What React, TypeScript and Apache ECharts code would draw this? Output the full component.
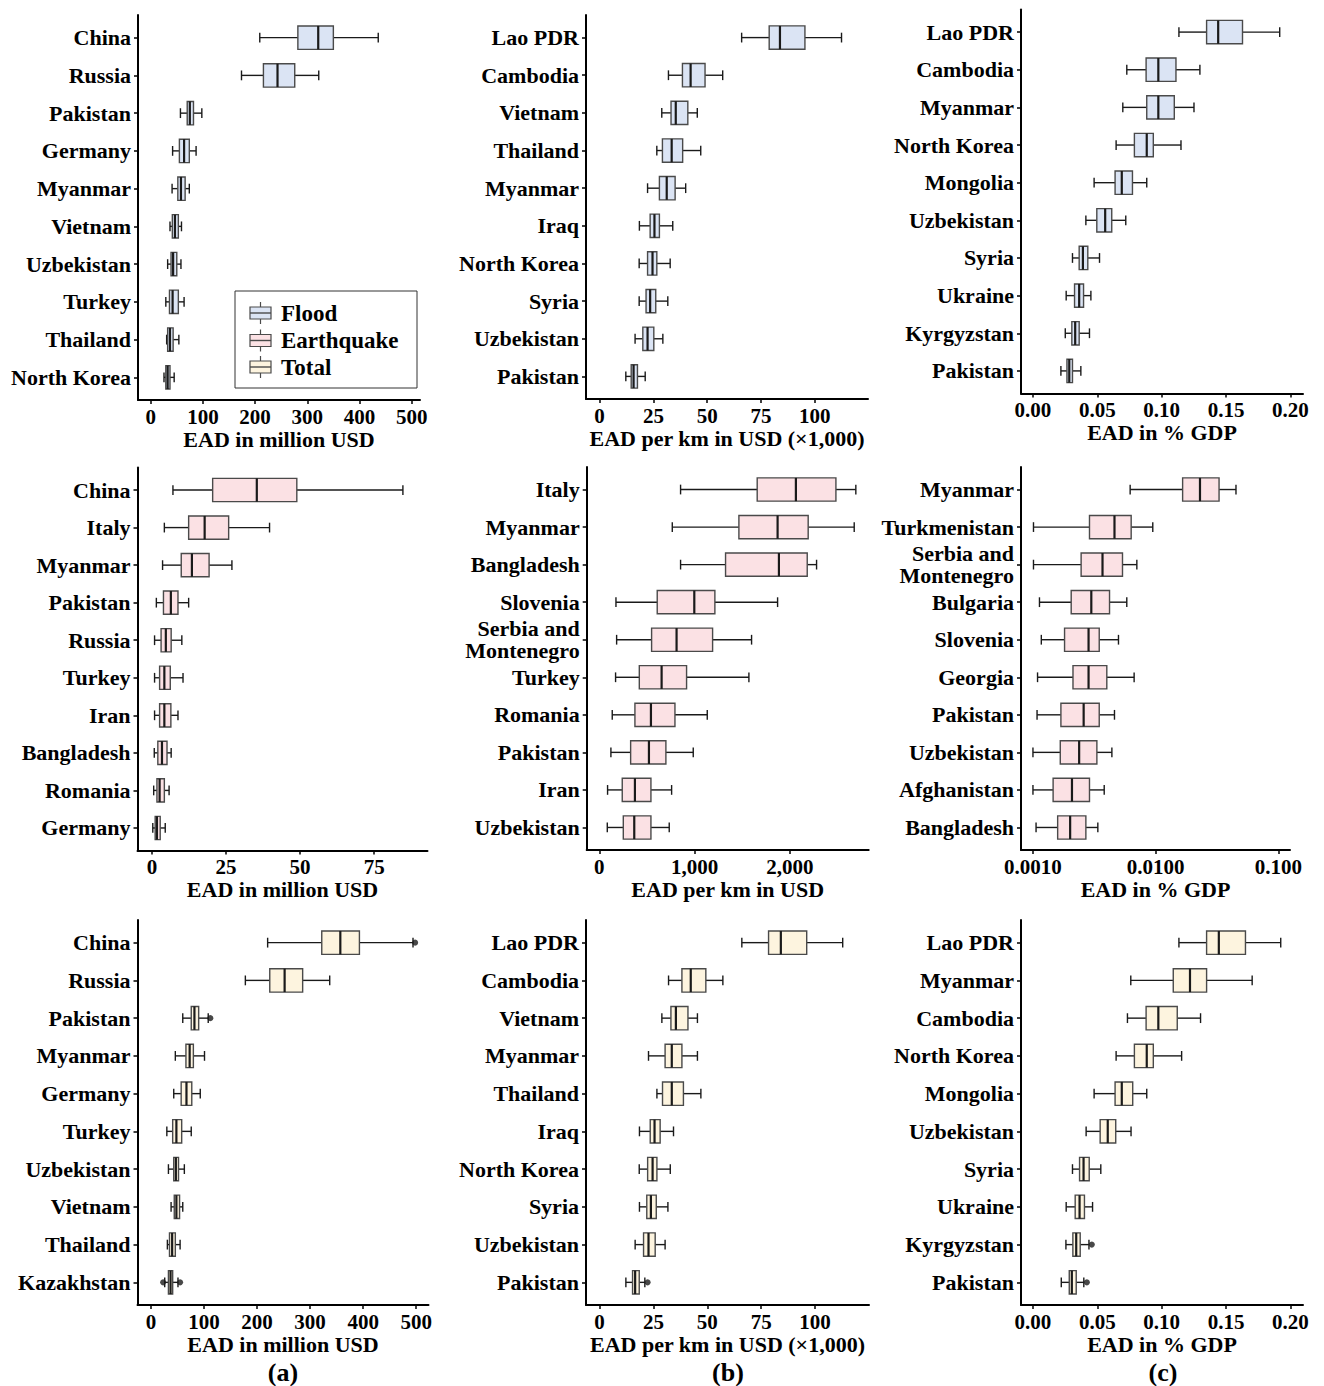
import React, { useEffect, useRef } from "react";
import * as echarts from "echarts";

const FONT = '"Liberation Serif", "Times New Roman", serif';

const FLOOD_FILL = "#dbe4f4";
const QUAKE_FILL = "#fbe1e4";
const TOTAL_FILL = "#fdf4df";

// Box statistics per country: [lower whisker, Q1, median, Q3, upper whisker]

// Flood – EAD in million USD
const floodUsdNames = ["China", "Russia", "Pakistan", "Germany", "Myanmar", "Vietnam", "Uzbekistan", "Turkey", "Thailand", "North Korea"];
const floodUsdStats = [
  [209, 282, 321, 350, 436],
  [174, 216, 243, 276, 322],
  [57, 70, 75, 82, 98],
  [42, 55, 64, 74, 87],
  [41, 52, 58, 66, 74],
  [37, 41.5, 46.5, 53, 59],
  [32.5, 39, 43, 50, 58],
  [29, 36, 42, 53, 64],
  [30.6, 32.5, 37, 43, 54],
  [25.5, 29, 32.5, 37, 45],
];
const floodUsdOutliers: number[][] = [];

// Flood – EAD per km in USD (x1,000)
const floodKmNames = ["Lao PDR", "Cambodia", "Vietnam", "Thailand", "Myanmar", "Iraq", "North Korea", "Syria", "Uzbekistan", "Pakistan"];
const floodKmStats = [
  [66, 78.8, 83.8, 95.4, 112.4],
  [32, 38.5, 42.3, 49, 57.2],
  [28.9, 33.2, 35.4, 41, 45.4],
  [26.6, 29.2, 33.5, 38.6, 47],
  [22.3, 27.8, 31.2, 35.1, 40],
  [18.5, 23.5, 25.5, 27.8, 34],
  [18.4, 22.3, 24.6, 26.6, 32.8],
  [18.4, 21.6, 23.5, 26.1, 31.7],
  [16.5, 20.1, 22.3, 25.2, 29.4],
  [12.2, 14.7, 15.8, 17.6, 21.2],
];
const floodKmOutliers: number[][] = [];

// Flood – EAD in % GDP
const floodGdpNames = ["Lao PDR", "Cambodia", "Myanmar", "North Korea", "Mongolia", "Uzbekistan", "Syria", "Ukraine", "Kyrgyzstan", "Pakistan"];
const floodGdpStats = [
  [0.1134, 0.1349, 0.1439, 0.1628, 0.1917],
  [0.0729, 0.0879, 0.0974, 0.1111, 0.1297],
  [0.0698, 0.0884, 0.0974, 0.1098, 0.1251],
  [0.0646, 0.0788, 0.0884, 0.0935, 0.115],
  [0.0475, 0.0638, 0.069, 0.0773, 0.0884],
  [0.0411, 0.0496, 0.0561, 0.0612, 0.0721],
  [0.0307, 0.0359, 0.0388, 0.0426, 0.0517],
  [0.0258, 0.0323, 0.0359, 0.0393, 0.045],
  [0.0251, 0.0302, 0.0328, 0.0359, 0.0439],
  [0.0217, 0.0264, 0.0282, 0.0307, 0.0372],
];
const floodGdpOutliers: number[][] = [];

// Earthquake – EAD in million USD
const quakeUsdNames = ["China", "Italy", "Myanmar", "Pakistan", "Russia", "Turkey", "Iran", "Bangladesh", "Romania", "Germany"];
const quakeUsdStats = [
  [7.1, 20.5, 35.4, 48.9, 84.7],
  [4.2, 12.4, 17.8, 25.9, 39.7],
  [3.6, 9.9, 13.5, 19.3, 27],
  [1.5, 3.9, 6.4, 8.8, 12.4],
  [0.9, 3.1, 4.7, 6.5, 10.1],
  [0.9, 2.6, 4.2, 6.2, 10.5],
  [0.9, 2.6, 4.2, 6.4, 8.8],
  [0.8, 2.0, 3.4, 5.1, 6.5],
  [0.6, 1.7, 2.6, 4.2, 5.8],
  [0.3, 1.1, 1.7, 2.8, 4.5],
];
const quakeUsdOutliers: number[][] = [];

// Earthquake – EAD per km in USD
const quakeKmNames = ["Italy", "Myanmar", "Bangladesh", "Slovenia", "Serbia and\nMontenegro", "Turkey", "Romania", "Pakistan", "Iran", "Uzbekistan"];
const quakeKmStats = [
  [853, 1657, 2063, 2483, 2692],
  [766, 1465, 1871, 2192, 2675],
  [853, 1325, 1885, 2182, 2280],
  [175, 608, 997, 1213, 1871],
  [182, 549, 811, 1189, 1598],
  [171, 420, 654, 916, 1570],
  [136, 374, 542, 794, 1133],
  [122, 329, 521, 699, 986],
  [87, 241, 374, 542, 759],
  [84, 252, 367, 542, 734],
];
const quakeKmOutliers: number[][] = [];

// Earthquake – EAD in % GDP (log scale)
const quakeGdpNames = ["Myanmar", "Turkmenistan", "Serbia and\nMontenegro", "Bulgaria", "Slovenia", "Georgia", "Pakistan", "Uzbekistan", "Afghanistan", "Bangladesh"];
const quakeGdpStats = [
  [0.0062, 0.0166, 0.023, 0.0329, 0.0452],
  [0.00101, 0.00289, 0.00462, 0.00632, 0.00948],
  [0.00101, 0.00247, 0.00369, 0.00537, 0.00703],
  [0.00113, 0.00205, 0.00299, 0.00421, 0.00582],
  [0.00117, 0.00181, 0.00284, 0.00347, 0.00498],
  [0.00109, 0.00212, 0.00284, 0.004, 0.00668],
  [0.00108, 0.00169, 0.00259, 0.00347, 0.00462],
  [0.001, 0.00167, 0.00238, 0.00332, 0.0044],
  [0.001, 0.00146, 0.00208, 0.00289, 0.00381],
  [0.00106, 0.00159, 0.00201, 0.0027, 0.00338],
];
const quakeGdpOutliers: number[][] = [];

// Total – EAD in million USD
const totalUsdNames = ["China", "Russia", "Pakistan", "Myanmar", "Germany", "Turkey", "Uzbekistan", "Vietnam", "Thailand", "Kazakhstan"];
const totalUsdStats = [
  [220, 322, 357, 393, 494],
  [178, 224, 252, 286, 337],
  [60, 76, 82, 90, 108],
  [46, 66, 73, 80, 101],
  [43, 57, 67, 77, 93],
  [30, 41, 48, 58, 76],
  [33, 43, 47, 52, 63],
  [38, 44, 48, 54, 60],
  [31, 35, 40, 46, 55],
  [26, 33, 37, 41, 51],
];
// [row, value]
const totalUsdOutliers = [
  [0, 498],
  [2, 112],
  [9, 23],
  [9, 55],
];

// Total – EAD per km in USD (x1,000)
const totalKmNames = ["Lao PDR", "Cambodia", "Vietnam", "Myanmar", "Thailand", "Iraq", "North Korea", "Syria", "Uzbekistan", "Pakistan"];
const totalKmStats = [
  [66, 78.4, 84.1, 96.1, 112.8],
  [32, 38.2, 42.3, 49.3, 57.2],
  [28.9, 33.1, 35.4, 41, 45.4],
  [22.7, 30.4, 33.5, 38.2, 45.4],
  [26.6, 29.2, 33.5, 38.9, 47],
  [18.5, 23.5, 25.5, 28.1, 34.3],
  [18.4, 22.3, 24.6, 26.6, 32.8],
  [18.5, 21.9, 23.8, 26.3, 31.7],
  [16.5, 20.4, 22.7, 25.8, 30.4],
  [12.2, 15.3, 16.5, 18.4, 21],
];
const totalKmOutliers = [[9, 22.3]];

// Total – EAD in % GDP
const totalGdpNames = ["Lao PDR", "Myanmar", "Cambodia", "North Korea", "Mongolia", "Uzbekistan", "Syria", "Ukraine", "Kyrgyzstan", "Pakistan"];
const totalGdpStats = [
  [0.1134, 0.1349, 0.1444, 0.1651, 0.1925],
  [0.076, 0.109, 0.122, 0.1349, 0.1703],
  [0.0734, 0.0879, 0.0974, 0.1121, 0.1302],
  [0.0646, 0.0788, 0.0884, 0.0935, 0.1155],
  [0.0475, 0.0638, 0.069, 0.0775, 0.0884],
  [0.0413, 0.0522, 0.0581, 0.0643, 0.0762],
  [0.0307, 0.0362, 0.0393, 0.0437, 0.0527],
  [0.0258, 0.0328, 0.0362, 0.04, 0.0463],
  [0.0256, 0.031, 0.0336, 0.0367, 0.0435],
  [0.022, 0.0282, 0.0302, 0.0336, 0.0395],
];
const totalGdpOutliers = [
  [8, 0.0457],
  [9, 0.0419],
];

// Axis ticks
const usdTicks = [0, 100, 200, 300, 400, 500];
const kmTicks = [0, 25, 50, 75, 100];
const gdpTicks = [0, 0.05, 0.1, 0.15, 0.2];
const quakeUsdTicks = [0, 25, 50, 75];
const quakeKmTicks = [0, 1000, 2000];
const quakeGdpTicks = [0.001, 0.01, 0.1];
const quakeGdpTickLabels = ["0.0010", "0.0100", "0.100"];

const TITLE_USD = "EAD in million USD";
const TITLE_KM_K = "EAD per km in USD (\u00d71,000)";
const TITLE_KM = "EAD per km in USD";
const TITLE_GDP = "EAD in % GDP";

type Panel = {
  names: string[];
  stats: number[][];
  outliers: number[][];
  fill: string;
  grid: { left: number; top: number; width: number; height: number };
  xType: "value" | "log";
  xMin: number;
  xMax: number;
  ticks: number[];
  fmt: (v: number) => string;
  title: string;
};

const plain = (v: number) => String(v);
const fixed2 = (v: number) => v.toFixed(2);
const thousands = (v: number) => v.toLocaleString("en-US");
const logFmt = (v: number) => {
  const i = quakeGdpTicks.findIndex((t) => Math.abs(t - v) / t < 1e-6);
  return i >= 0 ? quakeGdpTickLabels[i] : "";
};

const panels: Panel[] = [
  { names: floodUsdNames, stats: floodUsdStats, outliers: floodUsdOutliers, fill: FLOOD_FILL,
    grid: { left: 138, top: 15, width: 282, height: 385 }, xType: "value", xMin: -24.3, xMax: 516,
    ticks: usdTicks, fmt: plain, title: TITLE_USD },
  { names: floodKmNames, stats: floodKmStats, outliers: floodKmOutliers, fill: FLOOD_FILL,
    grid: { left: 586, top: 15, width: 282, height: 384 }, xType: "value", xMin: -6.3, xMax: 124.7,
    ticks: kmTicks, fmt: plain, title: TITLE_KM_K },
  { names: floodGdpNames, stats: floodGdpStats, outliers: floodGdpOutliers, fill: FLOOD_FILL,
    grid: { left: 1021, top: 9.5, width: 282, height: 384 }, xType: "value", xMin: -0.0093, xMax: 0.2098,
    ticks: gdpTicks, fmt: fixed2, title: TITLE_GDP },
  { names: quakeUsdNames, stats: quakeUsdStats, outliers: quakeUsdOutliers, fill: QUAKE_FILL,
    grid: { left: 137.5, top: 467.5, width: 290, height: 383 }, xType: "value", xMin: -4.86, xMax: 93,
    ticks: quakeUsdTicks, fmt: plain, title: TITLE_USD },
  { names: quakeKmNames, stats: quakeKmStats, outliers: quakeKmOutliers, fill: QUAKE_FILL,
    grid: { left: 586.7, top: 467, width: 282, height: 383 }, xType: "value", xMin: -132, xMax: 2827,
    ticks: quakeKmTicks, fmt: thousands, title: TITLE_KM },
  { names: quakeGdpNames, stats: quakeGdpStats, outliers: quakeGdpOutliers, fill: QUAKE_FILL,
    grid: { left: 1021, top: 467, width: 269, height: 383 }, xType: "log", xMin: 0.000799, xMax: 0.1246,
    ticks: quakeGdpTicks, fmt: logFmt, title: TITLE_GDP },
  { names: totalUsdNames, stats: totalUsdStats, outliers: totalUsdOutliers, fill: TOTAL_FILL,
    grid: { left: 137.5, top: 920, width: 291, height: 385 }, xType: "value", xMin: -25.3, xMax: 523.2,
    ticks: usdTicks, fmt: plain, title: TITLE_USD },
  { names: totalKmNames, stats: totalKmStats, outliers: totalKmOutliers, fill: TOTAL_FILL,
    grid: { left: 586, top: 920, width: 283, height: 385 }, xType: "value", xMin: -6.3, xMax: 125,
    ticks: kmTicks, fmt: plain, title: TITLE_KM_K },
  { names: totalGdpNames, stats: totalGdpStats, outliers: totalGdpOutliers, fill: TOTAL_FILL,
    grid: { left: 1021, top: 920, width: 282, height: 385 }, xType: "value", xMin: -0.0093, xMax: 0.2098,
    ticks: gdpTicks, fmt: fixed2, title: TITLE_GDP },
];

const ROWS = [0, 1, 2, 3, 4, 5, 6, 7, 8, 9];
const BOX_STROKE = "#4a4a4a";
const INK = "#1a1a1a";

function makeRenderItem(fill: string) {
  return (_params: any, api: any) => {
    const row = api.value(0);
    const lo = api.value(1);
    const q1 = api.value(2);
    const md = api.value(3);
    const q3 = api.value(4);
    const hi = api.value(5);
    const pLo = api.coord([lo, row]);
    const pQ1 = api.coord([q1, row]);
    const pMd = api.coord([md, row]);
    const pQ3 = api.coord([q3, row]);
    const pHi = api.coord([hi, row]);
    const band = Math.abs(api.coord([q1, row + 1])[1] - pQ1[1]);
    const y = pQ1[1];
    const boxH = band * 0.62;
    const capH = band * 0.13;
    const lineStyle = { stroke: INK, lineWidth: 1.4 };
    return {
      type: "group",
      children: [
        { type: "line", shape: { x1: pLo[0], y1: y, x2: pQ1[0], y2: y }, style: lineStyle },
        { type: "line", shape: { x1: pQ3[0], y1: y, x2: pHi[0], y2: y }, style: lineStyle },
        { type: "line", shape: { x1: pLo[0], y1: y - capH, x2: pLo[0], y2: y + capH }, style: lineStyle },
        { type: "line", shape: { x1: pHi[0], y1: y - capH, x2: pHi[0], y2: y + capH }, style: lineStyle },
        {
          type: "rect",
          shape: { x: pQ1[0], y: y - boxH / 2, width: pQ3[0] - pQ1[0], height: boxH },
          style: { fill, stroke: BOX_STROKE, lineWidth: 1.4 },
        },
        {
          type: "line",
          shape: { x1: pMd[0], y1: y - boxH / 2, x2: pMd[0], y2: y + boxH / 2 },
          style: { stroke: INK, lineWidth: 2.2 },
        },
      ],
    };
  };
}

function legendItems() {
  const entries = [
    { label: "Flood", fill: FLOOD_FILL, cy: 313 },
    { label: "Earthquake", fill: QUAKE_FILL, cy: 340.5 },
    { label: "Total", fill: TOTAL_FILL, cy: 367 },
  ];
  const els: any[] = [
    {
      type: "rect",
      shape: { x: 235, y: 291, width: 182, height: 97 },
      style: { fill: "#ffffff", stroke: "#333333", lineWidth: 1 },
    },
  ];
  entries.forEach((e) => {
    const x0 = 250;
    const w = 21;
    const cx = x0 + w / 2;
    els.push(
      { type: "line", shape: { x1: cx, y1: e.cy - 11, x2: cx, y2: e.cy + 11 }, style: { stroke: BOX_STROKE, lineWidth: 1.2 } },
      { type: "rect", shape: { x: x0, y: e.cy - 6, width: w, height: 12 }, style: { fill: e.fill, stroke: BOX_STROKE, lineWidth: 1.2 } },
      { type: "line", shape: { x1: x0, y1: e.cy, x2: x0 + w, y2: e.cy }, style: { stroke: BOX_STROKE, lineWidth: 1.4 } },
      {
        type: "text",
        x: 281,
        y: e.cy,
        style: { text: e.label, fill: "#000", font: `bold 23px ${FONT}`, verticalAlign: "middle", align: "left" },
      }
    );
  });
  return els;
}

export default function App() {
  const ref = useRef<HTMLDivElement>(null);

  useEffect(() => {
    if (!ref.current) return;
    const chart = echarts.init(ref.current, undefined, { renderer: "svg" });

    const labelStyle = { fontFamily: FONT, fontWeight: "bold" as const, color: "#000" };

    const grid = panels.map((p) => ({ ...p.grid, containLabel: false, outerBoundsMode: "none" }));

    const xAxis = panels.map((p, i) => ({
      type: p.xType,
      gridIndex: i,
      min: p.xMin,
      max: p.xMax,
      ...(p.xType === "log" ? { logBase: 10 } : {}),
      axisLine: { show: true, onZero: false, lineStyle: { color: "#000", width: 2 } },
      axisTick: { show: true, length: 4, lineStyle: { color: "#000", width: 1.5 }, customValues: p.ticks },
      axisLabel: { ...labelStyle, fontSize: 21, margin: 6, customValues: p.ticks, formatter: p.fmt },
      splitLine: { show: false },
      name: p.title,
      nameLocation: "middle",
      nameGap: 28,
      nameTextStyle: { ...labelStyle, fontSize: 22 },
    }));

    const yAxis = panels.map((p, i) => ({
      type: "value",
      gridIndex: i,
      inverse: true,
      min: -0.6,
      max: 9.6,
      axisLine: { show: true, onZero: false, lineStyle: { color: "#000", width: 2 } },
      axisTick: { show: true, length: 4, lineStyle: { color: "#000", width: 1.5 }, customValues: ROWS },
      axisLabel: {
        ...labelStyle,
        fontSize: 22,
        lineHeight: 22,
        margin: 7,
        customValues: ROWS,
        formatter: (v: number) => p.names[Math.round(v)] ?? "",
      },
      splitLine: { show: false },
    }));

    const series: any[] = [];
    panels.forEach((p, i) => {
      series.push({
        type: "custom",
        xAxisIndex: i,
        yAxisIndex: i,
        renderItem: makeRenderItem(p.fill),
        data: p.stats.map((s, k) => [k, ...s]),
        encode: { x: [1, 2, 3, 4, 5], y: 0 },
        clip: false,
        silent: true,
      });
      if (p.outliers.length) {
        series.push({
          type: "scatter",
          xAxisIndex: i,
          yAxisIndex: i,
          data: p.outliers.map(([k, v]) => [v, k]),
          symbolSize: 6,
          itemStyle: { color: INK },
          z: 5,
          silent: true,
        });
      }
    });

    const panelLabels = [
      { text: "(a)", x: 283 },
      { text: "(b)", x: 728 },
      { text: "(c)", x: 1163 },
    ].map((l) => ({
      type: "text",
      x: l.x,
      y: 1372,
      style: { text: l.text, fill: "#000", font: `bold 26px ${FONT}`, align: "center", verticalAlign: "middle" },
    }));

    chart.setOption({
      animation: false,
      backgroundColor: "#ffffff",
      grid,
      xAxis,
      yAxis,
      series,
      graphic: [...legendItems(), ...panelLabels],
    });

    return () => chart.dispose();
  }, []);

  return <div ref={ref} style={{ position: "absolute", left: 0, top: 0, width: 1324, height: 1386 }} />;
}
